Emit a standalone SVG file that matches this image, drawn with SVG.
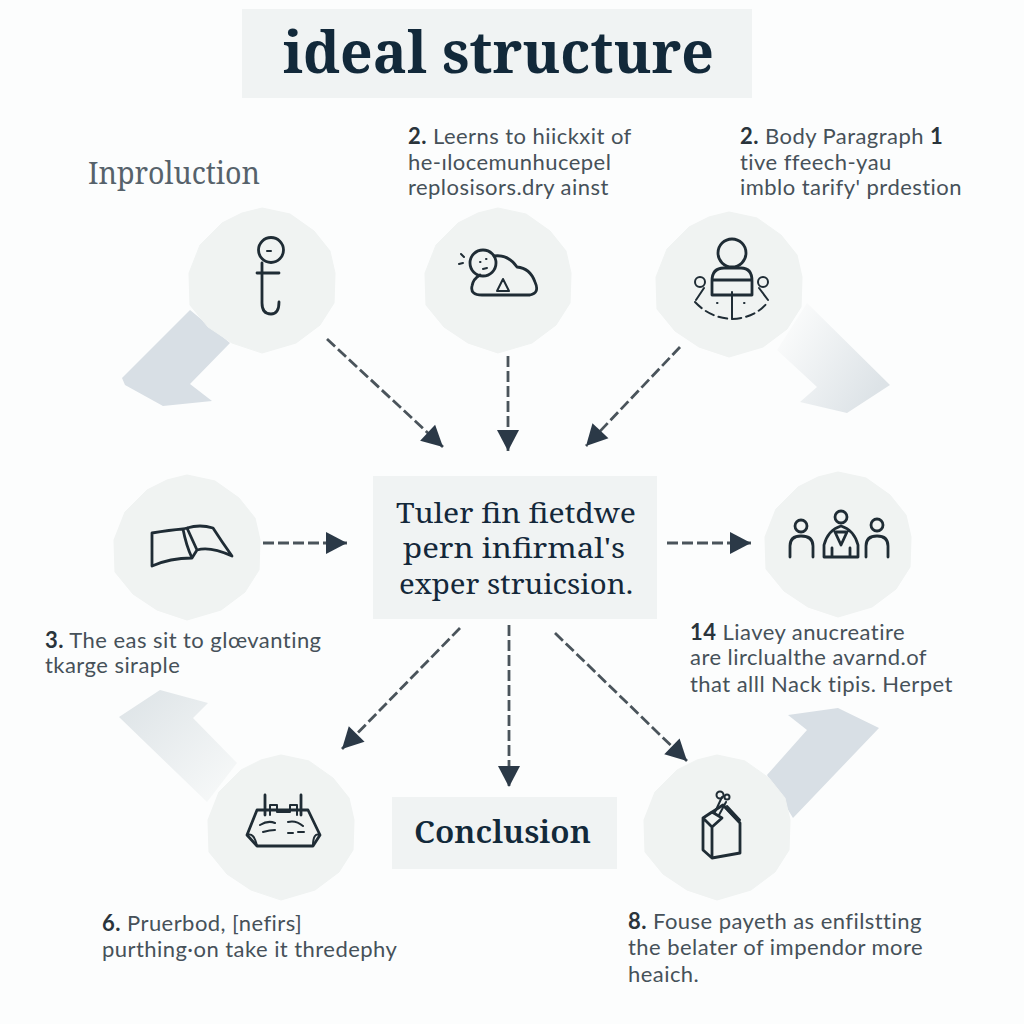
<svg xmlns="http://www.w3.org/2000/svg" width="1024" height="1024" viewBox="0 0 1024 1024">
<style>
.lbl{font-family:"Lato","Open Sans",sans-serif;font-size:22px;letter-spacing:0.45px;fill:#465159}
.lbl tspan.b{font-weight:700;fill:#2a343b}
.ser{font-family:"Noto Serif","DejaVu Serif","Liberation Serif",serif}
.ttl{fill:#12293a}
.box{fill:#f0f3f3}
.blob{fill:#f0f3f2;stroke:#f0f3f2;stroke-width:1}
.ic{fill:none;stroke:#1f2c35;stroke-width:2.800;stroke-linecap:round;stroke-linejoin:round}
.ic2{fill:none;stroke:#1f2c35;stroke-width:2;stroke-linecap:round;stroke-linejoin:round}
.con{fill:none;stroke:#4a545b;stroke-width:2.800;stroke-dasharray:11 4;marker-end:url(#ah)}
</style>
<defs>
<marker id="ah" markerUnits="userSpaceOnUse" markerWidth="24" markerHeight="24" viewBox="0 0 24 24" refX="23" refY="12" orient="auto"><path d="M2 1L23 12L2 23Z" fill="#2b3947"/></marker>
<path id="blob" d="M0-73L28-67L52-50L68-30L73-8L72 22L58 44L34 62L0 72L-30 62L-54 46L-72 24L-73-8L-62-36L-40-58L-20-68Z"/>
<linearGradient id="gr1" x1="0" y1="0" x2="1" y2="0.600"><stop offset="0.150" stop-color="#fafbfb"/><stop offset="1" stop-color="#dde3e7"/></linearGradient>
<linearGradient id="gr2" x1="1" y1="1" x2="0" y2="0"><stop offset="0.100" stop-color="#f6f8f8"/><stop offset="0.900" stop-color="#dfe5e8"/></linearGradient>
</defs>
<rect width="1024" height="1024" fill="#fcfdfd"/>

<g id="ribbons">
<path d="M190 310L122 378L125 385L163 406L212 401L190 384L230 343Z" fill="#d8dfe5"/>
<path d="M807 303L890 385L847 413L800 402L817 387L777 350Z" fill="url(#gr1)"/>
<path d="M237 763L193 718L208 703L160 690L119 717L207 802Z" fill="url(#gr2)"/>
<path d="M767 775L807 730L788 715L838 708L879 728L793 818Z" fill="#d8dfe5"/>
</g>

<g id="title">
<rect class="box" x="242" y="9" width="510" height="89"/>
<text class="ser ttl" x="283" y="73" font-size="58" font-weight="700" textLength="431" lengthAdjust="spacingAndGlyphs">ideal structure</text>
</g>

<g id="connectors">
<line class="con" x1="327" y1="339" x2="443" y2="447"/>
<line class="con" x1="508" y1="356" x2="508" y2="451"/>
<line class="con" x1="680" y1="347" x2="586" y2="446"/>
<line class="con" x1="263" y1="543" x2="347" y2="543"/>
<line class="con" x1="667" y1="543" x2="751" y2="543"/>
<line class="con" x1="460" y1="628" x2="342" y2="749"/>
<line class="con" x1="509" y1="625" x2="509" y2="787"/>
<line class="con" x1="555" y1="633" x2="687" y2="761"/>
</g>

<g id="intro-label"><text class="ser" x="88" y="184" font-size="30" fill="#56626b" textLength="172" lengthAdjust="spacingAndGlyphs">Inproluction</text></g>

<g id="node-intro">
<use href="#blob" class="blob" x="262" y="281"/>
<circle class="ic" cx="271" cy="250" r="12.500"/>
<path class="ic2" d="M267 251H271"/>
<path class="ic" d="M257 273H279M262 263V303Q262 314 271 314Q279 314 279 302"/>
</g>

<g id="node-learn">
<use href="#blob" class="blob" x="498" y="281"/>
<circle class="ic" cx="483" cy="263" r="13"/>
<path class="ic" d="M494 256Q508 254 517 267Q530 268 535 282Q540 293 530 295H482Q470 295 472 286Q473 279 480 275"/>
<path class="ic2" d="M497 291L503 279L509 291ZM461 254L464 257M459 264L463 263M480 262H480.500M486 259H486.500M483 269L487 268"/>
</g>
<g id="label-learn"><text class="lbl" y="144"><tspan x="408"><tspan class="b">2.</tspan> Leerns to hiickxit of</tspan><tspan x="408" y="170">he-ılocemunhucepel</tspan><tspan x="408" y="195">replosisors.dry ainst</tspan></text></g>

<g id="node-body">
<use href="#blob" class="blob" x="729" y="285"/>
<circle class="ic" cx="732" cy="253" r="14"/>
<path class="ic" d="M712 295V281Q712 268 724 268H741Q752 268 752 281V295ZM712 280H752"/>
<circle class="ic2" cx="700" cy="282" r="5"/><circle class="ic2" cx="763" cy="282" r="5"/>
<path class="ic2" d="M695 302Q710 318 732 319Q755 318 768 302" stroke-dasharray="9 5"/>
<path class="ic2" d="M732 292V319M704 288L696 300M759 288L768 300M717 303H717.500M744 303H744.500"/>
</g>
<g id="label-body"><text class="lbl" y="144"><tspan x="740"><tspan class="b">2.</tspan> Body Paragraph <tspan class="b">1</tspan></tspan><tspan x="740" y="170">tive ffeech-yau</tspan><tspan x="740" y="195">imblo tarify' prdestion</tspan></text></g>

<g id="node-book">
<use href="#blob" class="blob" x="187" y="548"/>
<path class="ic" d="M152 533Q170 530 183 529Q186 545 192 558Q170 558 152 566ZM187 528Q200 524 213 528Q222 542 232 556Q210 546 197 550L192 558M183 529L187 528L197 550"/>
</g>
<g id="label-3"><text class="lbl" y="648"><tspan x="45"><tspan class="b">3.</tspan> The eas sit to glœvanting</tspan><tspan x="45" y="673">tkarge siraple</tspan></text></g>

<g id="node-center">
<rect class="box" x="373" y="476" width="284" height="143"/>
<text class="ser" font-size="27" fill="#14283a" text-anchor="middle"><tspan x="516" y="523" textLength="240" lengthAdjust="spacingAndGlyphs">Tuler fin fietdwe</tspan><tspan x="514" y="558" textLength="222" lengthAdjust="spacingAndGlyphs">pern infirmal's</tspan><tspan x="516" y="594" textLength="234" lengthAdjust="spacingAndGlyphs">exper struicsion.</tspan></text>
</g>

<g id="node-people">
<use href="#blob" class="blob" x="838" y="545"/>
<circle class="ic" cx="801" cy="526" r="6"/><circle class="ic" cx="841" cy="517" r="6"/><circle class="ic" cx="877" cy="525" r="6"/>
<path class="ic" d="M790 557V546Q790 536 801 536Q813 536 813 546V557M866 557V546Q866 536 877 536Q888 536 888 546V557M824 557V545Q828 530 841 526Q854 530 858 545V557ZM835 532L841 545L847 532ZM832 557V548M850 557V548"/>
</g>
<g id="label-14"><text class="lbl" y="640"><tspan x="690"><tspan class="b">14</tspan> Liavey anucreatire</tspan><tspan x="690" y="665">are lirclualthe avarnd.of</tspan><tspan x="690" y="692">that alll Nack tipis. Herpet</tspan></text></g>

<g id="node-tray">
<use href="#blob" class="blob" x="281" y="828"/>
<path class="ic" d="M257 810H308L320 835L313 846H257L247 835ZM265 795V815M301 795V815"/>
<path class="ic2" d="M270 815V805H277V812H290V805H297V815M247 835Q254 832 257 846M320 835Q313 832 313 846M260 825Q268 820 275 823M288 822Q296 820 303 826M263 832Q270 830 275 830M288 833H293M298 832H304"/>
</g>
<g id="label-6"><text class="lbl" y="931"><tspan x="102"><tspan class="b">6.</tspan> Pruerbod, [nefirs]</tspan><tspan x="102" y="957">purthing·on take it thredephy</tspan></text></g>

<g id="node-conclusion">
<rect class="box" x="392" y="797" width="225" height="72"/>
<text class="ser ttl" x="414" y="843" font-size="31" font-weight="600" textLength="177" lengthAdjust="spacingAndGlyphs">Conclusion</text>
</g>

<g id="node-box">
<use href="#blob" class="blob" x="717" y="828"/>
<path class="ic" d="M712 858L740 853V823L723 805L703 818V850ZM712 858V827L703 818M712 827L722 818L712 812L703 818"/>
<path class="ic2" d="M715 812L722 797M719 815L726 802M723 805L740 823M727 806L740 820"/>
<circle class="ic2" cx="720" cy="795" r="3.500"/><circle class="ic2" cx="727" cy="797" r="2.500"/>
</g>
<g id="label-8"><text class="lbl" y="929"><tspan x="628"><tspan class="b">8.</tspan> Fouse payeth as enfilstting</tspan><tspan x="628" y="955">the belater of impendor more</tspan><tspan x="628" y="982">heaich.</tspan></text></g>
</svg>
